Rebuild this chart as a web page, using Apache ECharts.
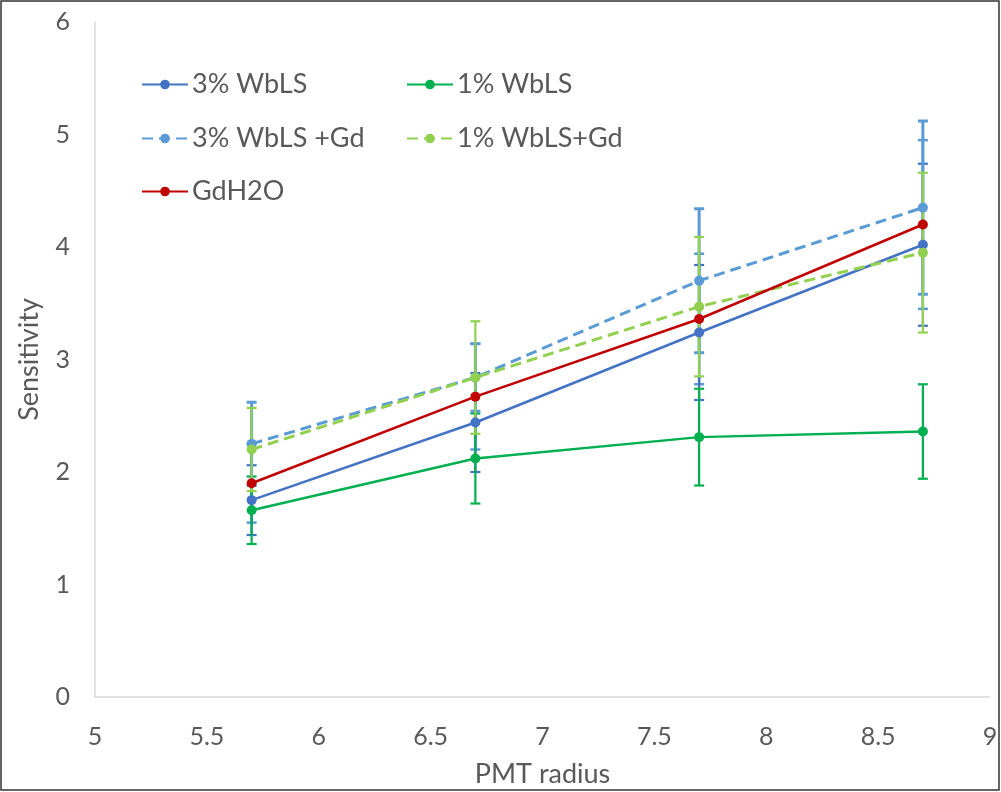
<!DOCTYPE html>
<html>
<head>
<meta charset="UTF-8">
<title>Sensitivity vs PMT radius</title>
<style>
  html, body { margin: 0; padding: 0; background: #fff; }
  #main { width: 1001px; height: 792px; }
</style>
</head>
<body>
<div id="main"></div>
<script src="https://cdn.jsdelivr.net/npm/echarts@6/dist/echarts.min.js"></script>
<script>
// PMT radius positions
var radius = [5.7, 6.7, 7.7, 8.7];

// sensitivity per sample
var wbls3 = [1.75, 2.44, 3.24, 4.02];
var wbls1 = [1.66, 2.12, 2.31, 2.36];
var wbls3Gd = [2.25, 2.84, 3.70, 4.35];
var wbls1Gd = [2.20, 2.84, 3.47, 3.95];
var gdh2o = [1.90, 2.67, 3.36, 4.20];

// error bar half-widths
var wbls3Err = [0.31, 0.44, 0.60, 0.72];
var wbls1Err = [0.30, 0.40, 0.43, 0.42];
var wbls3GdErr = [0.37, 0.30, 0.64, 0.77];
var wbls1GdErr = [0.37, 0.50, 0.62, 0.71];
var gdh2oErr = [0.35, 0.47, 0.58, 0.75];

var xTicks = [5, 9, 0.5];
var yTicks = [0, 6, 1];

var font = 'Lato, "Open Sans", sans-serif';
var grey = '#595959';

function pairs(vals) {
  var out = [];
  for (var i = 0; i < radius.length; i++) out.push([radius[i], vals[i]]);
  return out;
}

function errSeries(name, vals, errs, color, width) {
  var data = [];
  for (var i = 0; i < radius.length; i++) data.push([radius[i], vals[i] - errs[i], vals[i] + errs[i]]);
  return {
    name: name + ' err',
    type: 'custom',
    z: 1,
    silent: true,
    renderItem: function (params, api) {
      var lo = api.coord([api.value(0), api.value(1)]);
      var hi = api.coord([api.value(0), api.value(2)]);
      var w = 5;
      var st = { stroke: color, lineWidth: width };
      return {
        type: 'group',
        children: [
          { type: 'line', shape: { x1: lo[0], y1: lo[1], x2: hi[0], y2: hi[1] }, style: st },
          { type: 'line', shape: { x1: lo[0] - w, y1: lo[1], x2: lo[0] + w, y2: lo[1] }, style: st },
          { type: 'line', shape: { x1: hi[0] - w, y1: hi[1], x2: hi[0] + w, y2: hi[1] }, style: st }
        ]
      };
    },
    encode: { x: 0, y: [1, 2] },
    data: data
  };
}

function lineSeries(name, vals, color, dashed) {
  return {
    name: name,
    type: 'line',
    z: 3,
    data: pairs(vals),
    symbol: 'circle',
    symbolSize: 10,
    showSymbol: true,
    itemStyle: { color: color },
    lineStyle: { color: color, width: dashed ? 3 : 2.5, type: dashed ? [11, 6] : 'solid' }
  };
}

function legendAt(name, left, top) {
  return {
    data: [name],
    left: left,
    top: top,
    padding: 0,
    itemWidth: 46,
    itemHeight: 12,
    selectedMode: false,
    textStyle: { fontFamily: font, fontSize: 27, color: grey, padding: [0, 0, 0, -1] }
  };
}

var app = echarts.init(document.getElementById('main'));

var option = {
  backgroundColor: '#fff',
  animation: false,
  graphic: [{
    type: 'rect',
    shape: { x: 1, y: 1, width: 998, height: 789 },
    style: { fill: 'none', stroke: '#333', lineWidth: 1.5 },
    silent: true
  }],
  grid: { left: 95, right: 11, top: 22, bottom: 95, containLabel: false, outerBoundsMode: 'none' },
  legend: [
    legendAt('3% WbLS', 141, 71),
    legendAt('1% WbLS', 406, 71),
    legendAt('3% WbLS +Gd', 141, 125),
    legendAt('1% WbLS+Gd', 406, 125),
    legendAt('GdH2O', 141, 178)
  ],
  xAxis: {
    type: 'value',
    min: xTicks[0],
    max: xTicks[1],
    interval: xTicks[2],
    name: 'PMT radius',
    nameLocation: 'middle',
    nameGap: 64,
    nameTextStyle: { fontFamily: font, fontSize: 27, color: grey },
    axisLine: { show: true, lineStyle: { color: '#d9d9d9', width: 1.5 } },
    axisTick: { show: false },
    splitLine: { show: false },
    axisLabel: { fontFamily: font, fontSize: 25, color: grey, margin: 27 }
  },
  yAxis: {
    type: 'value',
    min: yTicks[0],
    max: yTicks[1],
    interval: yTicks[2],
    name: 'Sensitivity',
    nameLocation: 'middle',
    nameGap: 52,
    nameTextStyle: { fontFamily: font, fontSize: 27, color: grey },
    axisLine: { show: true, lineStyle: { color: '#d9d9d9', width: 1.5 } },
    axisTick: { show: false },
    splitLine: { show: false },
    axisLabel: { fontFamily: font, fontSize: 25, color: grey, margin: 25 }
  },
  series: [
    errSeries('GdH2O', gdh2o, gdh2oErr, '#5B9BD5', 2.5),
    errSeries('3% WbLS', wbls3, wbls3Err, '#4472C4', 2.2),
    errSeries('1% WbLS', wbls1, wbls1Err, '#00B050', 2.2),
    errSeries('3% WbLS +Gd', wbls3Gd, wbls3GdErr, '#5B9BD5', 3),
    errSeries('1% WbLS+Gd', wbls1Gd, wbls1GdErr, '#92D050', 2.2),
    lineSeries('3% WbLS', wbls3, '#4472C4', false),
    lineSeries('1% WbLS', wbls1, '#00B050', false),
    lineSeries('3% WbLS +Gd', wbls3Gd, '#5B9BD5', true),
    lineSeries('1% WbLS+Gd', wbls1Gd, '#92D050', true),
    lineSeries('GdH2O', gdh2o, '#C00000', false)
  ]
};

app.setOption(option);
window.addEventListener('resize', function () { app.resize(); });
</script>
</body>
</html>
